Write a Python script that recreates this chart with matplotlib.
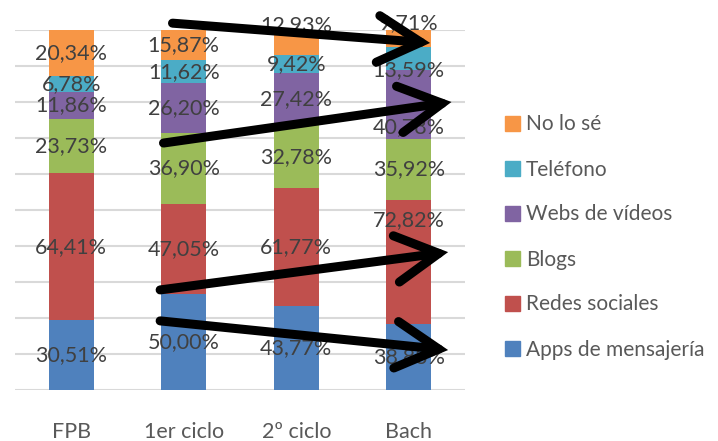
import numpy as np
import matplotlib
matplotlib.use("Agg")
import matplotlib.pyplot as plt
from matplotlib.patches import Patch

plt.rcParams['font.family'] = ['Lato', 'DejaVu Sans']

# data
categories = ['FPB', '1er ciclo', '2º ciclo', 'Bach']
series_names = ['Apps de mensajería', 'Redes sociales', 'Blogs',
                'Webs de vídeos', 'Teléfono', 'No lo sé']
apps = [30.51, 50.00, 43.77, 38.83]
redes = [64.41, 47.05, 61.77, 72.82]
blogs = [23.73, 36.90, 32.78, 35.92]
webs = [11.86, 26.20, 27.42, 40.78]
telefono = [6.78, 11.62, 9.42, 13.59]
nolose = [20.34, 15.87, 12.93, 9.71]

colors = ['#4F81BD', '#C0504D', '#9BBB59', '#8064A2', '#4BACC6', '#F79646']

# label nudges (pixels, + is up) where the original labels were moved
nudges = {(5, 2): 17, (5, 3): 15, (4, 3): -12, (3, 3): -23, (1, 3): 42}

# arrows drawn over the chart: (x0, y0, x1, y1) in data units
arrows = [(0.90, 101.9, 3.19, 96.4),
          (0.82, 68.6, 3.38, 80.0),
          (0.79, 27.8, 3.35, 38.3),
          (0.79, 19.2, 3.35, 11.1)]

values = np.array([apps, redes, blogs, webs, telefono, nolose])
shares = values / values.sum(axis=0) * 100

W, H = 718, 441
fig = plt.figure(figsize=(W / 100, H / 100), dpi=100)
ax = fig.add_axes([15 / W, 51 / H, 450 / W, 360 / H])

x = np.arange(len(categories))
bottom = np.zeros(len(categories))
for i, name in enumerate(series_names):
    ax.bar(x, shares[i], 0.4, bottom=bottom, color=colors[i], zorder=2)
    for j in range(len(categories)):
        yc = bottom[j] + shares[i][j] / 2
        ax.annotate(f"{values[i][j]:.2f}%".replace('.', ','), (x[j], yc),
                    xytext=(0, nudges.get((i, j), 0) * 0.72), textcoords='offset points',
                    ha='center', va='center', fontsize=15.5, color='#404040', zorder=3)
    bottom += shares[i]

ax.set_xlim(-0.5, 3.5)
ax.set_ylim(0, 100)
ax.set_yticks(np.arange(0, 101, 10))
ax.yaxis.grid(True, color='#D9D9D9', linewidth=1.5, zorder=0)
ax.set_yticklabels([])
ax.tick_params(axis='y', length=0)
ax.set_xticks(x)
ax.set_xticklabels(categories, fontsize=15.5, color='#595959')
ax.tick_params(axis='x', length=0, pad=23)
for s in ax.spines.values():
    s.set_visible(False)

for x0, y0, x1, y1 in arrows:
    ax.annotate('', xy=(x1, y1), xytext=(x0, y0),
                arrowprops=dict(arrowstyle='->,head_length=1.1,head_width=0.6',
                                color='black', lw=6.5, mutation_scale=28,
                                shrinkA=0, shrinkB=0, capstyle='round', joinstyle='miter'),
                zorder=5, annotation_clip=False)

handles = [Patch(color=colors[i], label=series_names[i]) for i in range(6)][::-1]
fig.legend(handles=handles, loc='center left', bbox_to_anchor=(505 / W, 1 - 237 / H),
           frameon=False, fontsize=15, labelcolor='#595959',
           handlelength=0.7, handleheight=0.7, handletextpad=0.3, labelspacing=1.2,
           borderpad=0, borderaxespad=0)

fig.savefig('out.png', dpi=100)
